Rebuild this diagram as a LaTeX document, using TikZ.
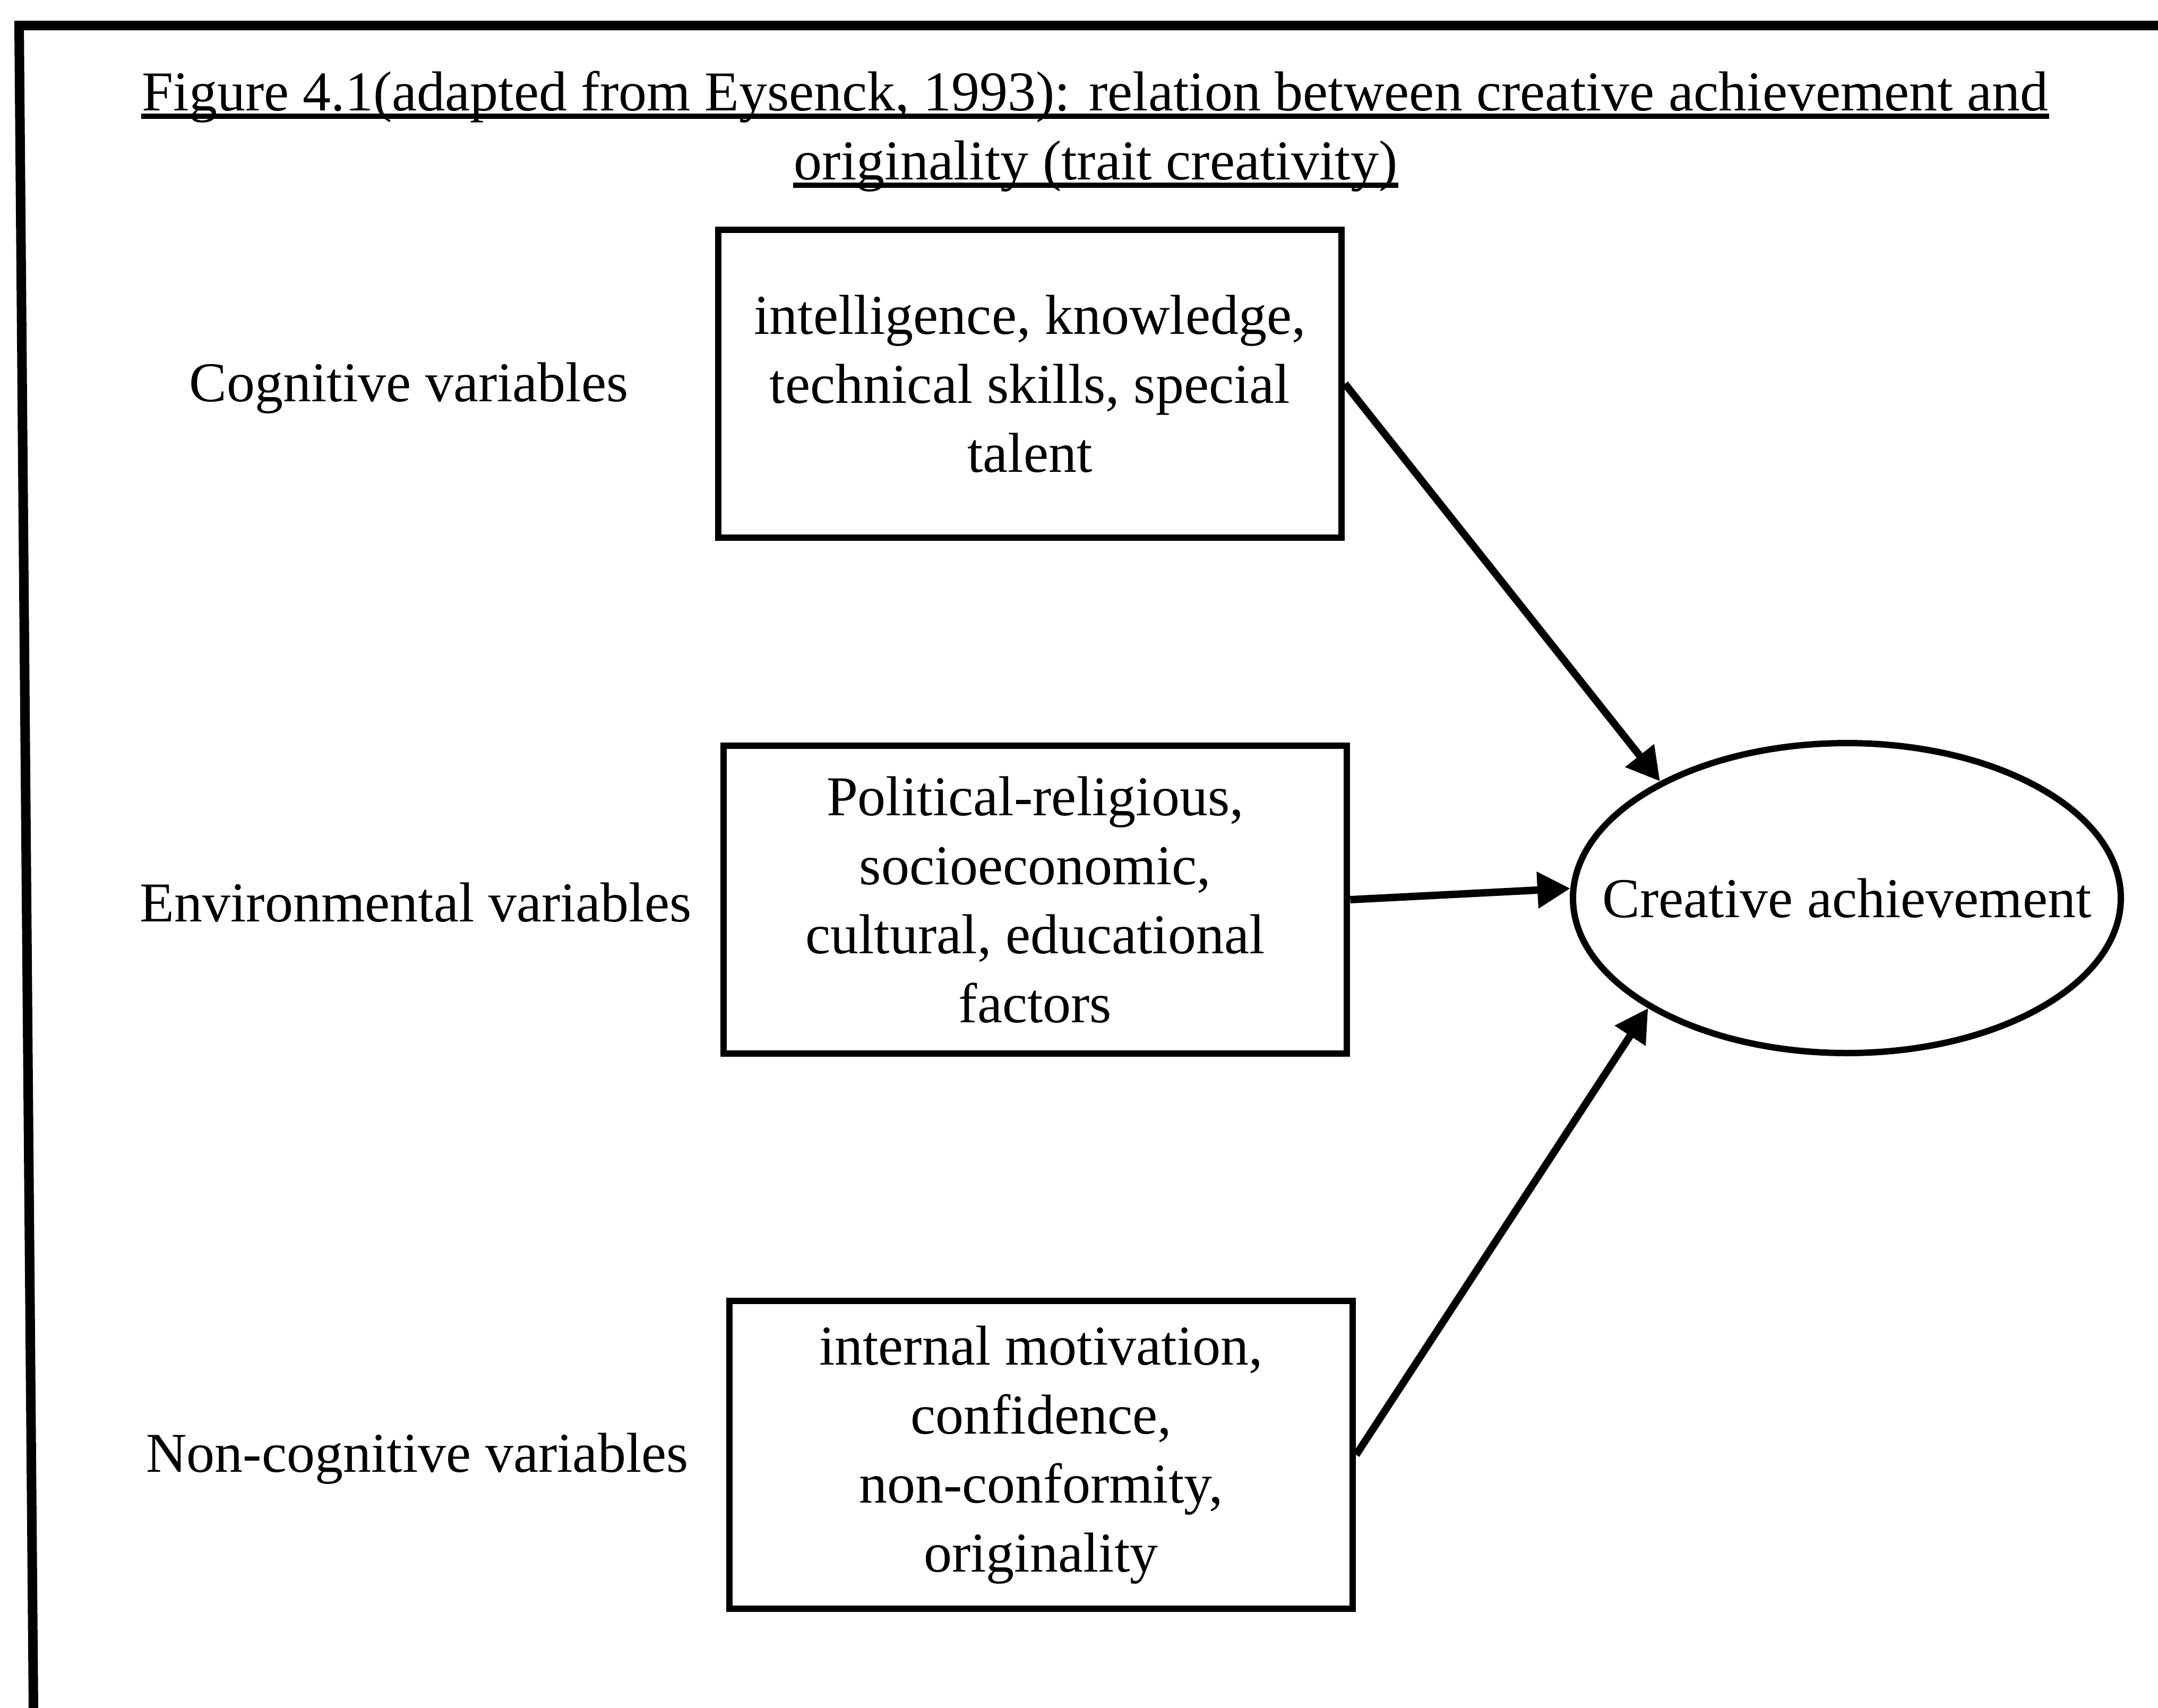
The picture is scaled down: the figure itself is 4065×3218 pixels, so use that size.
\documentclass[tikz,border=0pt]{standalone}
\usepackage{fontspec}
\setmainfont{Liberation Serif}
\usetikzlibrary{shapes.geometric,arrows.meta}
\begin{document}
\begin{tikzpicture}[x=0.1pt,y=-0.1pt,
  txt/.style={font=\fontsize{10.6pt}{13pt}\selectfont, inner sep=0pt},
  boxnode/.style={draw, line width=1.2pt, txt, align=center, minimum width=117.5pt, minimum height=58pt},
  ellnode/.style={draw, ellipse, line width=1.2pt, txt, minimum width=103.2pt, minimum height=58.4pt},
  conn/.style={line width=1.4pt, -{Triangle[length=6.2pt,width=6.6pt]}},
  frameline/.style={line width=1.8pt, line join=miter},
  uline/.style={line width=1pt}
]
\useasboundingbox (0,0) rectangle (4065,3218);

% frame (top and left sides)
\coordinate (fbl) at (63,3218);
\coordinate (ftl) at (36,48);
\coordinate (ftr) at (4065,48);
\draw[frameline] (fbl) -- (ftl) -- (ftr);

% title
\node[txt, anchor=base] (t1) at (2063,208) {Figure 4.1(adapted from Eysenck, 1993): relation between creative achievement and};
\node[txt, anchor=base] (t2) at (2064,338) {originality (trait creativity)};
\draw[uline] ([yshift=-1.1pt]t1.base west) -- ([yshift=-1.1pt]t1.base east);
\draw[uline] ([yshift=-1.1pt]t2.base west) -- ([yshift=-1.1pt]t2.base east);

% labels
\node[txt] (l1) at (770,731) {Cognitive variables};
\node[txt] (l2) at (783,1700) {Environmental variables};
\node[txt] (l3) at (786,2748) {Non-cognitive variables};

% boxes
\node[boxnode] (b1) at (1940,723) {intelligence, knowledge,\\technical skills, special\\talent};
\node[boxnode] (b2) at (1950,1695) {Political-religious,\\socioeconomic,\\cultural, educational\\factors};
\node[boxnode] (b3) at (1961,2741) {internal motivation,\\confidence,\\non-conformity,\\originality};

% ellipse
\node[ellnode] (ca) at (3479,1692) {\makebox[0pt]{Creative achievement}};

% connectors
\draw[conn] (b1.east) -- (ca.148);
\draw[conn] (b2.east) -- (ca.178.5);
\draw[conn] (b3.east) -- (ca.209);
\end{tikzpicture}
\end{document}
